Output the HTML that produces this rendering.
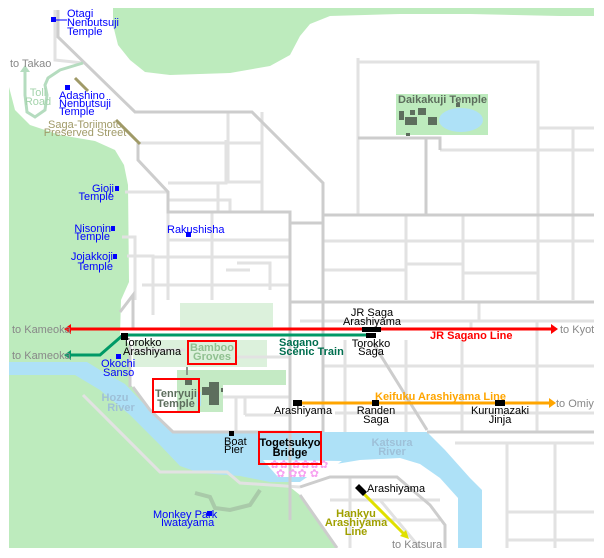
<!DOCTYPE html>
<html><head><meta charset="utf-8"><style>
html,body{margin:0;padding:0;background:#fff;width:604px;height:558px;overflow:hidden}
svg{display:block}
text{font-family:"Liberation Sans",sans-serif;font-size:11px}
.b{fill:#0000ff}.g{fill:#888}.k{fill:#000}
.bd{font-weight:bold}
</style></head><body>
<svg width="604" height="558" viewBox="0 0 604 558" xmlns="http://www.w3.org/2000/svg">
<defs><clipPath id="c"><rect x="9" y="8" width="585" height="540"/></clipPath></defs>
<g clip-path="url(#c)">
<rect x="9" y="8" width="585" height="540" fill="#fff"/>
<path d="M113,8 L594,8 L594,16 L560,16 L470,14 L400,14 L330,16 L310,24 L300,36 L290,55 L270,66 L230,73 L170,75 L145,72 L130,60 L118,45 L113,25 Z" fill="#bdebbd"/>
<path d="M9,87 L15,110 L30,125 L60,135 L95,141 L115,150 L124,165 L128,185 L129,282 L121,300 L120,335 L130,345 L131,385 L160,420 L175,435 L290,440 L290,487 L300,495 L337,548 L9,548 Z" fill="#bdebbd"/>
<path d="M9,362 L87,362 L100,370 L125,384 L140,400 L160,420 L173,432 L427,432 L445,450 L470,478 L482,490 L482,548 L458,548 L458,498 L440,478 L420,464 L400,458 L360,460 L330,465 L310,475 L300,482 L270,482 L240,476 L200,473 L180,466 L160,445 L130,415 L100,390 L75,375 L9,375 Z" fill="#aee1f7"/>
<path d="M263,460 L342,461 L318,477 L278,477 Z" fill="#fff"/>
<rect x="133" y="340" width="134" height="27" fill="#dcf1dc"/>
<rect x="180" y="303" width="93" height="24" fill="#dcf1dc"/>
<rect x="177" y="370" width="109" height="15" fill="#c4eac4"/>
<rect x="177" y="370" width="46" height="42" fill="#c4eac4"/>
<g fill="none" stroke="#e2e2e2" stroke-width="3">
<path d="M55,10 V60 L83,63"/>
<path d="M138,143 H262 M228,112 V182 H262 M262,112 V212 M168,200 H230 V212 M168,183 H226 V140 M218,183 V212"/>
<path d="M125,192 H168 M122,237 H135 V300 M127,256 H153 V315 M168,212 V300 M142,285 H290 M168,240 H290 M153,257 H290 M212,212 V300 M237,263 H270 V290 M226,270 H250"/>
<path d="M358,58 V215 M358,62 H538 V300 M538,128 H594 M440,150 H594 M573,128 V300 M406,215 V300 M463,215 V300 M323,241 H594 M323,270 H406 M406,264 H463 M463,273 H538"/>
<path d="M300,321 H594 M479,303 V321 M471,321 V330 M345,340 V432 M406,340 V432 M462,340 V432 M537,321 V432 M323,366 H594 M335,413 H594 M455,443 H594 M507,443 V548 M555,443 V548 M507,512 H594 M507,540 H594"/>
<path d="M133,350 H185 M236,357 H290 M223,397 H290 M236,397 V432 M245,415 H290 M245,397 V415 M133,300 V330"/>
<path d="M83,395 L160,472 H227 L240,483 L300,487"/>
<path d="M350,478 V548 M380,500 L420,548 M330,500 H440 M365,520 H440"/>
</g>
<g fill="none" stroke="#cdcdcd" stroke-width="3">
<path d="M58,10 V37 L135,112 H252 L323,183 V223 H290 V212 H168 V192 L138,160 V143"/>
<path d="M323,215 H594 M426,138 V215 M358,138 H440 V150"/>
<path d="M290,223 V520 M323,223 V432 M290,302 H594 M427,432 H594 M373,343 L427,430"/>
<path d="M133,387 L150,410 L173,432 H290"/>
<path d="M120,312 L133,295 V330 M130,345 V387"/>
<path d="M300,487 L330,477 H397 L430,505 L445,525 V548 M300,495 L337,548"/>
</g>
<path d="M83,63 L60,70 L48,78 L45,85 L47,95 L45,110 L35,117 L27,112 L25,95 L25,70" fill="none" stroke="#b5dcbf" stroke-width="3"/>
<path d="M20,72 L25,65 L30,72" fill="#b5dcbf"/>
<path d="M195,493 L210,497 L215,508 L230,510 L250,505 L260,490" fill="none" stroke="#a9caa9" stroke-width="4"/>
<path d="M75,78 L88,91 M116,120 L140,144" stroke="#a09a68" stroke-width="3"/>
<rect x="396" y="94" width="92" height="41" fill="#bdebbd"/>
<ellipse cx="461" cy="120" rx="22" ry="12" fill="#aee1f7"/>
<g fill="#5d6e5d"><rect x="399" y="111" width="5" height="9"/><rect x="410" y="110" width="5" height="5"/><rect x="418" y="108" width="8" height="7"/><rect x="405" y="117" width="12" height="8"/><rect x="428" y="117" width="9" height="8"/><rect x="456" y="103" width="4" height="4"/><rect x="406" y="133" width="4" height="3"/></g>
<text x="398" y="103" fill="#5d6e5d" class="bd">Daikakuji Temple</text>
<path d="M197,392 h4 v14 h-4z" fill="#aee1f7"/>
<g fill="#5d6e5d"><rect x="185" y="380" width="7" height="5"/><rect x="209" y="382" width="10" height="23"/><rect x="202" y="387" width="8" height="8"/><rect x="221" y="388" width="2" height="4"/></g>
<path d="M187,367 V375" stroke="#8a9a8a" stroke-width="2"/>
<path d="M70,329 H552" stroke="#ff0000" stroke-width="3"/>
<path d="M64,329 L71,324 V334Z M558,329 L551,324 V334Z" fill="#ff0000"/>
<path d="M70,355 H100 L123,335 H372" fill="none" stroke="#009966" stroke-width="3"/>
<path d="M64,355 L71,350 V360Z" fill="#009966"/>
<path d="M300,403 H550" stroke="#ffa500" stroke-width="3"/>
<path d="M556,403 L549,398 V408Z" fill="#ffa500"/>
<path d="M360,490 L404,534" stroke="#e0e000" stroke-width="3"/>
<path d="M409,539 L400,536 L406,530Z" fill="#e0e000"/>
<g fill="#000"><rect x="362" y="327" width="19" height="5"/><rect x="366" y="333" width="10" height="5"/><rect x="121" y="333" width="7" height="7"/><rect x="293" y="400" width="9" height="6"/><rect x="372" y="400" width="7" height="6"/><rect x="495" y="400" width="10" height="6"/><rect x="229" y="431" width="5" height="5"/><path d="M355,488 L359,484 L367,492 L363,496Z"/></g>
<g fill="#f7a0f0" style="font-size:10px"><text x="270" y="468">✿✿ ✿✿✿✿</text><text x="276" y="477">✿ ✿✿ ✿</text></g>
<g fill="#0000ff"><rect x="51" y="17" width="5" height="5"/><rect x="65" y="85" width="5" height="5"/><rect x="115" y="186" width="4" height="5"/><rect x="111" y="226" width="4" height="5"/><rect x="113" y="254" width="4" height="5"/><rect x="186" y="232" width="5" height="5"/><rect x="116" y="354" width="5" height="5"/><rect x="207" y="511" width="5" height="5"/></g>
<path d="M56,20 H67" stroke="#0000ff"/>
<text class="b" x="67" y="17">Otagi</text><text class="b" x="67" y="26">Nenbutsuji</text><text class="b" x="67" y="35">Temple</text>
<text class="g" x="10" y="67">to Takao</text>
<text x="38" y="96" text-anchor="middle" fill="#a3d3ab">Toll</text><text x="38" y="105" text-anchor="middle" fill="#a3d3ab">Road</text>
<text class="b" x="59" y="99">Adashino</text><text class="b" x="59" y="107">Nenbutsuji</text><text class="b" x="59" y="115">Temple</text>
<text x="85" y="128" text-anchor="middle" fill="#a09a68">Saga-Toriimoto</text><text x="85" y="136" text-anchor="middle" fill="#a09a68">Preserved Street</text>
<text class="b" x="114" y="192" text-anchor="end">Gioji</text><text class="b" x="114" y="200" text-anchor="end">Temple</text>
<text class="b" x="111" y="232" text-anchor="end">Nisonin</text><text class="b" x="110" y="240" text-anchor="end">Temple</text>
<text class="b" x="113" y="260" text-anchor="end">Jojakkoji</text><text class="b" x="113" y="270" text-anchor="end">Temple</text>
<text class="b" x="167" y="233">Rakushisha</text>
<text class="k" x="372" y="316" text-anchor="middle">JR Saga</text><text class="k" x="372" y="325" text-anchor="middle">Arashiyama</text>
<text class="k" x="371" y="347" text-anchor="middle">Torokko</text><text class="k" x="371" y="355" text-anchor="middle">Saga</text>
<text x="430" y="339" fill="#ff0000" class="bd">JR Sagano Line</text>
<text class="g" x="560" y="333">to Kyoto</text>
<text class="g" x="12" y="333">to Kameoka</text><text class="g" x="12" y="359">to Kameoka</text>
<text class="k" x="123" y="346">Torokko</text><text class="k" x="123" y="355">Arashiyama</text>
<text class="b" x="101" y="367">Okochi</text><text class="b" x="103" y="376">Sanso</text>
<text x="279" y="346" fill="#006f4f" class="bd">Sagano</text><text x="279" y="355" fill="#006f4f" class="bd">Scenic Train</text>
<rect x="188" y="341" width="48" height="23" fill="none" stroke="#ff0000" stroke-width="2"/>
<text x="212" y="351" text-anchor="middle" fill="#90c090" class="bd">Bamboo</text><text x="212" y="360" text-anchor="middle" fill="#90c090" class="bd">Groves</text>
<rect x="153" y="379" width="46" height="33" fill="none" stroke="#ff0000" stroke-width="2"/>
<text x="176" y="397" text-anchor="middle" fill="#5d6e5d" class="bd">Tenryuji</text><text x="176" y="407" text-anchor="middle" fill="#5d6e5d" class="bd">Temple</text>
<text x="115" y="401" text-anchor="middle" fill="#9ec0d8" class="bd">Hozu</text><text x="121" y="411" text-anchor="middle" fill="#9ec0d8" class="bd">River</text>
<text class="k" x="274" y="414">Arashiyama</text>
<text class="k" x="376" y="414" text-anchor="middle">Randen</text><text class="k" x="376" y="423" text-anchor="middle">Saga</text>
<text class="k" x="500" y="414" text-anchor="middle">Kurumazaki</text><text class="k" x="500" y="423" text-anchor="middle">Jinja</text>
<text x="375" y="400" fill="#ffa500" class="bd">Keifuku Arashiyama Line</text>
<text class="g" x="556" y="407">to Omiya</text>
<text class="k" x="224" y="445">Boat</text><text class="k" x="224" y="453">Pier</text>
<rect x="259" y="432" width="62" height="32" fill="none" stroke="#ff0000" stroke-width="2"/>
<text x="290" y="446" text-anchor="middle" class="k bd">Togetsukyo</text><text x="290" y="456" text-anchor="middle" class="k bd">Bridge</text>
<text x="392" y="446" text-anchor="middle" fill="#9ec0d8" class="bd">Katsura</text><text x="392" y="455" text-anchor="middle" fill="#9ec0d8" class="bd">River</text>
<text class="k" x="367" y="492">Arashiyama</text>
<text x="356" y="517" text-anchor="middle" fill="#a0a000" class="bd">Hankyu</text><text x="356" y="526" text-anchor="middle" fill="#a0a000" class="bd">Arashiyama</text><text x="356" y="535" text-anchor="middle" fill="#a0a000" class="bd">Line</text>
<text class="g" x="392" y="548">to Katsura</text>
<text class="b" x="153" y="518">Monkey Park</text><text class="b" x="161" y="526">Iwatayama</text>
</g>
</svg>
</body></html>
